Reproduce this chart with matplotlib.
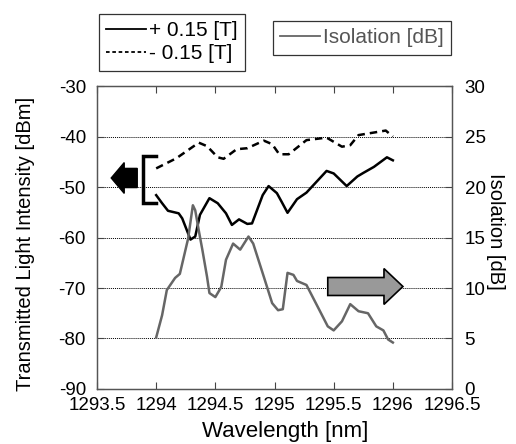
import matplotlib
matplotlib.use("Agg")
import matplotlib.pyplot as plt
from matplotlib.patches import FancyArrow
from matplotlib.lines import Line2D

plt.rcParams["font.family"] = ["Liberation Sans", "DejaVu Sans"]
plt.rcParams["axes.unicode_minus"] = False

# +0.15 T transmitted intensity [dBm]
wl_pos = [1294.00, 1294.05, 1294.10, 1294.19, 1294.22, 1294.29, 1294.33, 1294.37,
          1294.45, 1294.52, 1294.59, 1294.64, 1294.70, 1294.77, 1294.81, 1294.90,
          1294.95, 1295.02, 1295.06, 1295.11, 1295.19, 1295.27, 1295.44, 1295.50,
          1295.61, 1295.70, 1295.75, 1295.84, 1295.95, 1296.00]
pos = [-51.6, -53.2, -54.7, -55.2, -56.2, -60.4, -59.8, -55.5,
       -52.2, -53.2, -55.2, -57.5, -56.4, -57.3, -57.2, -51.6,
       -49.8, -51.2, -52.9, -55.1, -52.4, -51.1, -46.8, -47.3,
       -49.8, -47.9, -47.2, -46.0, -44.1, -44.7]

# -0.15 T transmitted intensity [dBm]
wl_neg = [1294.00, 1294.17, 1294.36, 1294.43, 1294.52, 1294.57, 1294.68, 1294.77,
          1294.91, 1294.98, 1295.04, 1295.12, 1295.27, 1295.44, 1295.57, 1295.64,
          1295.71, 1295.89, 1295.94, 1296.00]
neg = [-46.3, -44.3, -41.2, -41.9, -44.1, -44.4, -42.5, -42.3,
       -40.8, -41.5, -43.5, -43.5, -40.7, -40.2, -42.0, -41.7,
       -39.7, -39.0, -38.8, -40.0]

# isolation [dB]
wl_iso = [1294.00, 1294.05, 1294.09, 1294.16, 1294.20, 1294.27, 1294.31, 1294.33,
          1294.36, 1294.39, 1294.43, 1294.45, 1294.50, 1294.55, 1294.59, 1294.65,
          1294.71, 1294.78, 1294.82, 1294.91, 1294.98, 1295.03, 1295.07, 1295.11,
          1295.16, 1295.19, 1295.27, 1295.38, 1295.45, 1295.50, 1295.57, 1295.64,
          1295.71, 1295.79, 1295.86, 1295.92, 1295.96, 1296.00]
iso = [5.1, 7.3, 9.8, 11.0, 11.4, 14.9, 18.2, 17.7,
       15.7, 13.8, 11.1, 9.5, 9.1, 10.1, 12.8, 14.4,
       13.8, 15.1, 14.4, 11.1, 8.5, 7.8, 7.9, 11.5,
       11.3, 10.7, 10.3, 7.8, 6.2, 5.8, 6.7, 8.4,
       7.7, 7.5, 6.2, 5.8, 4.9, 4.6]

x_ticks = [1293.5, 1294, 1294.5, 1295, 1295.5, 1296, 1296.5]
x_labels = ["1293.5", "1294", "1294.5", "1295", "1295.5", "1296", "1296.5"]

fig = plt.figure(figsize=(5.16, 4.44), dpi=100)
ax = fig.add_axes([0.188, 0.124, 0.688, 0.682])
ax2 = ax.twinx()

ax.plot(wl_pos, pos, color="black", lw=1.8, label="+ 0.15 [T]")
ax.plot(wl_neg, neg, color="black", lw=1.8, ls=(0, (3, 2)), label="- 0.15 [T]")
ax2.plot(wl_iso, iso, color="#666666", lw=1.8, label="Isolation [dB]")

ax.set_xlim(1293.5, 1296.5)
ax.set_ylim(-90, -30)
ax2.set_ylim(0, 30)
ax.set_xticks(x_ticks)
ax.set_xticklabels(x_labels)
ax.set_yticks(range(-90, -29, 10))
ax2.set_yticks(range(0, 31, 5))
ax.yaxis.grid(True, linestyle=(0, (1, 1)), color="black", lw=0.7)

for a in (ax, ax2):
    a.tick_params(direction="in", length=5, labelsize=13.5, width=0.8, color="#444444")
    for s in a.spines.values():
        s.set_color("#555555")
        s.set_linewidth(0.9)
ax.tick_params(axis="x", top=True, pad=6)
ax.tick_params(axis="y", pad=8)
ax2.tick_params(axis="y", pad=9)

ax.set_xlabel("Wavelength [nm]", fontsize=16)
ax.xaxis.set_label_coords(0.53, -0.105)
ax.set_ylabel("Transmitted Light Intensity [dBm]", fontsize=14.5)
ax.yaxis.set_label_coords(-0.175, 0.48)
ax2.set_ylabel("Isolation [dB]", fontsize=14.5, rotation=270, va="bottom")
ax2.yaxis.set_label_coords(1.095, 0.52)

# left arrow + bracket pointing to the intensity axis
ax.add_patch(FancyArrow(1293.84, -48.2, -0.22, 0, width=3.8, head_width=6.1,
                        head_length=0.11, length_includes_head=True,
                        facecolor="black", edgecolor="black", zorder=5))
ax.plot([1294.0, 1293.89, 1293.89, 1294.0], [-43.9, -43.9, -53.2, -53.2],
        color="black", lw=2.5, solid_joinstyle="miter", zorder=5)

# gray arrow pointing to the isolation axis
ax.add_patch(FancyArrow(1295.45, -69.7, 0.635, 0, width=3.56, head_width=7.1,
                        head_length=0.16, length_includes_head=True,
                        facecolor="#999999", edgecolor="black", lw=1.2, zorder=5,
                        clip_on=False))

leg_kw = dict(frameon=True, fancybox=False, fontsize=15, handlelength=1.9,
              handletextpad=0.15, borderpad=0.35, labelspacing=0.2,
              borderaxespad=0, bbox_transform=fig.transFigure)
h1 = [Line2D([], [], color="black", lw=1.3),
      Line2D([], [], color="black", lw=1.3, ls=(0, (2, 1.5)))]
leg1 = fig.legend(h1, ["+ 0.15 [T]", "- 0.15 [T]"], loc="upper left",
                  bbox_to_anchor=(99 / 516, 1 - 14 / 444), **leg_kw)
leg1.get_frame().set_edgecolor("black")
leg1.get_frame().set_linewidth(0.9)
h2 = [Line2D([], [], color="#666666", lw=1.3)]
leg2 = fig.legend(h2, ["Isolation [dB]"], loc="upper left",
                  bbox_to_anchor=(273 / 516, 1 - 21 / 444), **leg_kw)
leg2.get_frame().set_edgecolor("black")
leg2.get_frame().set_linewidth(0.9)
for t in leg2.get_texts():
    t.set_color("#555555")

fig.savefig("out.png", dpi=100)
